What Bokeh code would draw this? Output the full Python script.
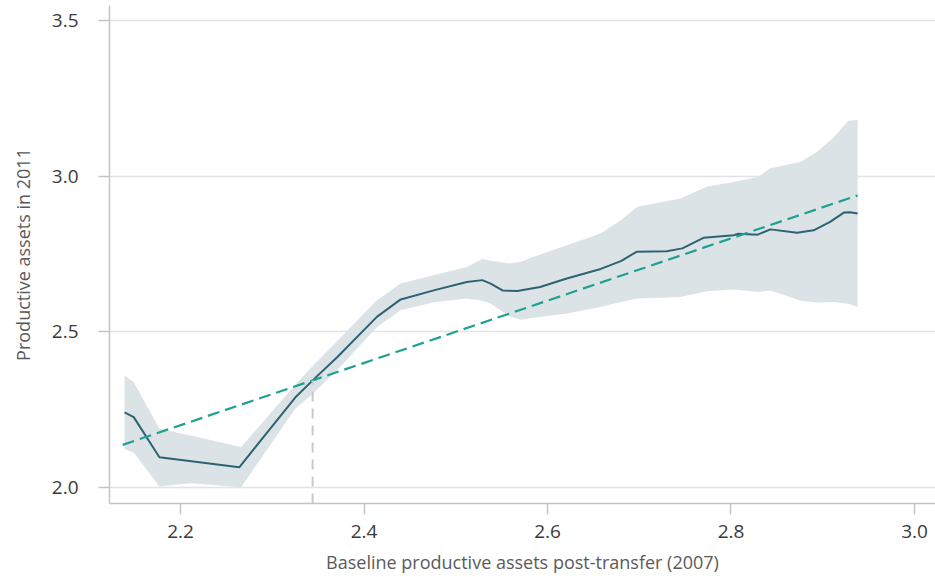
from bokeh.plotting import figure
from bokeh.models import Range1d, FixedTicker
from bokeh.embed import file_html
from bokeh.resources import INLINE

# ---- data ----
curve_x = [2.139, 2.149, 2.177, 2.264, 2.325, 2.344, 2.371, 2.414, 2.440, 2.476,
           2.512, 2.529, 2.538, 2.551, 2.567, 2.592, 2.621, 2.658, 2.680, 2.697,
           2.730, 2.747, 2.770, 2.803, 2.808, 2.829, 2.843, 2.872, 2.890, 2.908,
           2.923, 2.930, 2.938]
curve_y = [2.241, 2.226, 2.097, 2.065, 2.289, 2.344, 2.419, 2.548, 2.604, 2.633,
           2.660, 2.666, 2.655, 2.633, 2.631, 2.644, 2.671, 2.702, 2.727, 2.757,
           2.759, 2.768, 2.802, 2.810, 2.815, 2.812, 2.829, 2.818, 2.826, 2.853,
           2.883, 2.884, 2.880]

band_x = [2.139, 2.149, 2.177, 2.211, 2.266, 2.325, 2.344, 2.374, 2.414, 2.440,
          2.476, 2.512, 2.529, 2.538, 2.558, 2.571, 2.585, 2.621, 2.658, 2.680,
          2.698, 2.745, 2.774, 2.803, 2.829, 2.843, 2.876, 2.894, 2.912, 2.928,
          2.938]
band_hi = [2.360, 2.339, 2.189, 2.167, 2.130, 2.330, 2.390, 2.480, 2.601, 2.655,
           2.682, 2.708, 2.735, 2.728, 2.719, 2.725, 2.741, 2.778, 2.816, 2.859,
           2.902, 2.928, 2.967, 2.981, 2.997, 3.025, 3.046, 3.078, 3.125, 3.178,
           3.180]
band_lo = [2.124, 2.112, 2.003, 2.014, 2.001, 2.253, 2.300, 2.387, 2.515, 2.569,
           2.595, 2.607, 2.600, 2.591, 2.550, 2.539, 2.545, 2.559, 2.580, 2.596,
           2.607, 2.612, 2.630, 2.636, 2.628, 2.633, 2.600, 2.594, 2.596, 2.590,
           2.580]

# 45-degree line (y = x) across the data range
diag_x = [2.137, 2.938]
diag_y = [2.137, 2.938]

# threshold where the curve crosses the 45-degree line
threshold = 2.344

x_ticks = [2.2, 2.4, 2.6, 2.8, 3.0]
x_tick_labels = ["2.2", "2.4", "2.6", "2.8", "3.0"]
y_ticks = [2.0, 2.5, 3.0, 3.5]
y_tick_labels = ["2.0", "2.5", "3.0", "3.5"]

x_label = "Baseline productive assets post-transfer (2007)"
y_label = "Productive assets in 2011"

# ---- figure ----
FONT = "Open Sans"
y0, y1 = 1.9486, 3.548
p = figure(width=935, height=577, output_backend="svg", toolbar_location=None,
           x_range=Range1d(2.1226, 3.0229), y_range=Range1d(y0, y1),
           min_border_left=109, min_border_right=0, min_border_top=5,
           min_border_bottom=74)
p.outline_line_color = None
p.background_fill_color = "white"

p.varea(x=band_x, y1=band_lo, y2=band_hi, fill_color="#dce3e7", fill_alpha=1.0)
p.line(curve_x, curve_y, line_color="#2d6273", line_width=2)
p.line(diag_x, diag_y, line_color="#1fa191", line_width=2.2, line_dash="12 6")
p.segment(x0=[threshold], y0=[y0], x1=[threshold], y1=[threshold],
          line_color="#c6cacd", line_width=2, line_dash="10 7")

# grid
p.xgrid.grid_line_color = None
p.ygrid.grid_line_color = "#e3e3e3"
p.ygrid.grid_line_width = 1.5
p.ygrid.ticker = FixedTicker(ticks=y_ticks)

# axes
for ax in (p.xaxis[0], p.yaxis[0]):
    ax.axis_line_color = "#c4c4c4"
    ax.axis_line_width = 1.5
    ax.major_tick_line_color = "#c4c4c4"
    ax.major_tick_line_width = 1.5
    ax.major_tick_in = 0
    ax.major_tick_out = 11
    ax.minor_tick_line_color = None
    ax.major_label_text_font = FONT
    ax.major_label_text_font_size = "19px"
    ax.major_label_text_color = "#3a3a3a"
    ax.axis_label_text_font = FONT
    ax.axis_label_text_font_size = "18px"
    ax.axis_label_text_font_style = "normal"
    ax.axis_label_text_color = "#5a5a5a"

p.xaxis.ticker = FixedTicker(ticks=x_ticks)
p.xaxis.major_label_overrides = {t: l for t, l in zip(x_ticks, x_tick_labels)}
p.yaxis.ticker = FixedTicker(ticks=y_ticks)
p.yaxis.major_label_overrides = {t: l for t, l in zip(y_ticks, y_tick_labels)}
p.xaxis.axis_label = x_label
p.yaxis.axis_label = y_label
p.xaxis.major_label_standoff = 10
p.xaxis.axis_label_standoff = 9
p.yaxis.major_label_standoff = 20
p.yaxis.axis_label_standoff = 14

open("out.html", "w").write(file_html(p, INLINE))
